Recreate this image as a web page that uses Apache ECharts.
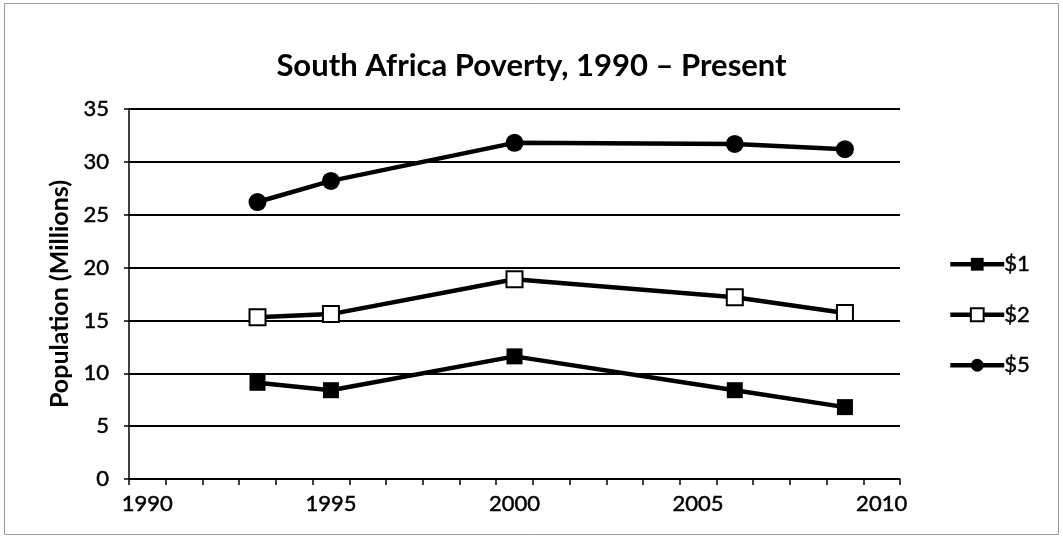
<!DOCTYPE html>
<html>
<head>
<meta charset="utf-8">
<script src="https://cdn.jsdelivr.net/npm/echarts@6/dist/echarts.min.js"></script>
<style>
  html, body { margin: 0; padding: 0; background: #fff; }
  #chart { width: 1063px; height: 539px; }
</style>
</head>
<body>
<div id="chart"></div>
<script>
// axis categories (years), labels shown every 5th
var years = ['1990', '1991', '1992', '1993', '1994', '1995', '1996', '1997', '1998', '1999', '2000',
             '2001', '2002', '2003', '2004', '2005', '2006', '2007', '2008', '2009', '2010'];
// survey years with data
var surveyYears = ['1993', '1995', '2000', '2006', '2009'];
// population in millions
var usd1 = [9.1, 8.4, 11.6, 8.4, 6.8];
var usd2 = [15.3, 15.6, 18.9, 17.2, 15.7];
var usd5 = [26.2, 28.2, 31.8, 31.7, 31.2];

function pairs(vals) {
  return surveyYears.map(function (y, i) { return [y, vals[i]]; });
}

var font = 'Lato, "Open Sans", sans-serif';
var chart = echarts.init(document.getElementById('chart'));

chart.setOption({
  backgroundColor: '#fff',
  animation: false,
  textStyle: { fontFamily: font, color: '#000' },
  title: {
    text: 'South Africa Poverty, 1990 \u2013 Present',
    left: 'center',
    top: 45,
    textStyle: { fontFamily: font, fontSize: 31, fontWeight: 'bold', color: '#000' }
  },
  graphic: [{
    type: 'rect',
    shape: { x: 4.5, y: 3.5, width: 1054, height: 531 },
    style: { fill: 'none', stroke: '#9a9a9a', lineWidth: 1 },
    silent: true
  }],
  legend: {
    orient: 'vertical',
    left: 943,
    top: 248,
    itemWidth: 54,
    itemHeight: 16,
    itemGap: 28,
    lineStyle: { width: 4.5 },
    textStyle: {
      fontFamily: font, fontSize: 22, color: '#000', padding: [0, 0, 0, -5],
      textBorderColor: '#000', textBorderWidth: 0.5
    },
    data: ['$1', '$2', '$5']
  },
  grid: { left: 129, right: 163, top: 109, bottom: 60 },
  xAxis: {
    type: 'category',
    data: years,
    boundaryGap: true,
    axisLine: { lineStyle: { color: '#000', width: 1.5 } },
    axisTick: { show: true, interval: 0, length: 6, lineStyle: { color: '#000', width: 1.5 } },
    axisLabel: {
      interval: 4, margin: 14, fontSize: 22, color: '#000', fontFamily: font,
      textBorderColor: '#000', textBorderWidth: 0.5
    },
    splitLine: { show: false }
  },
  yAxis: {
    type: 'value',
    min: 0,
    max: 35,
    interval: 5,
    name: 'Population (Millions)',
    nameLocation: 'middle',
    nameGap: 52,
    nameTextStyle: { fontFamily: font, fontSize: 25, fontWeight: 'bold', color: '#000' },
    axisLine: { show: true, lineStyle: { color: '#000', width: 1.5 } },
    axisTick: { show: true, length: 5, lineStyle: { color: '#000', width: 1.5 } },
    axisLabel: {
      margin: 20, fontSize: 22, color: '#000', fontFamily: font,
      textBorderColor: '#000', textBorderWidth: 0.5
    },
    splitLine: { lineStyle: { color: '#000', width: 2 } }
  },
  series: [
    {
      name: '$1',
      type: 'line',
      data: pairs(usd1),
      symbol: 'rect',
      symbolSize: 16,
      itemStyle: { color: '#000' },
      lineStyle: { color: '#000', width: 4.5 }
    },
    {
      name: '$2',
      type: 'line',
      data: pairs(usd2),
      symbol: 'rect',
      symbolSize: 16,
      itemStyle: { color: '#fff', borderColor: '#000', borderWidth: 2 },
      lineStyle: { color: '#000', width: 4.5 }
    },
    {
      name: '$5',
      type: 'line',
      data: pairs(usd5),
      symbol: 'circle',
      symbolSize: 18,
      itemStyle: { color: '#000' },
      lineStyle: { color: '#000', width: 4.5 }
    }
  ]
});
</script>
</body>
</html>
